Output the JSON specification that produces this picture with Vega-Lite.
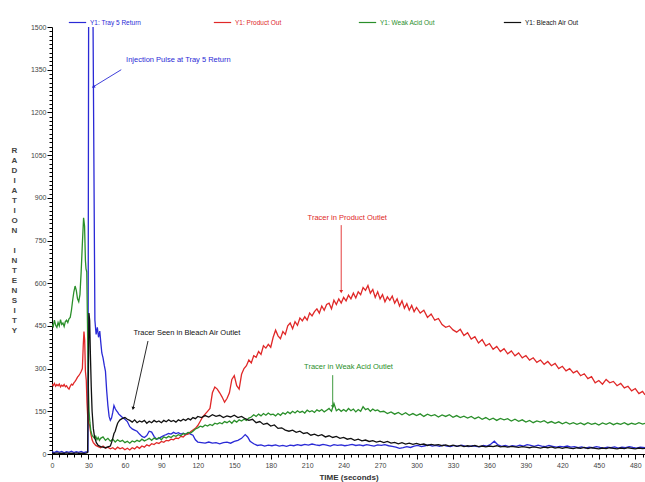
{
"$schema": "https://vega.github.io/schema/vega-lite/v6.json",
"width": 593, "height": 427,
"autosize": "none",
"padding": {"left": 52, "top": 27, "right": 0, "bottom": 28},
"background": "white",
"config": {"view": {"stroke": null}, "font": "Liberation Sans", "axis": {"labelOverlap": false}},
"datasets": {
"ann": [
{"id":"inj","s":"B","label":"Injection Pulse at Tray 5 Return","t":104,"v":1384,"t1":57,"v1":1350,"t2":34,"v2":1290},
{"id":"bleach","s":"K","label":"Tracer Seen in Bleach Air Outlet","t":111,"v":425,"t1":79,"v1":397,"t2":66.7,"v2":160},
{"id":"prod","s":"R","label":"Tracer in Product Outlet","t":243,"v":829,"t1":238,"v1":804,"t2":238,"v2":570},
{"id":"weak","s":"G","label":"Tracer in Weak Acid Outlet","t":244,"v":306,"t1":231,"v1":277,"t2":231,"v2":166}
],
"series": [
{"s":"B","t":0,"v":8},{"s":"B","t":2,"v":5},{"s":"B","t":4,"v":10},{"s":"B","t":6,"v":6},{"s":"B","t":8,"v":9},{"s":"B","t":10,"v":4},{"s":"B","t":12,"v":8},{"s":"B","t":14,"v":6},{"s":"B","t":16,"v":10},{"s":"B","t":18,"v":5},{"s":"B","t":20,"v":8},{"s":"B","t":22,"v":6},{"s":"B","t":24,"v":9},{"s":"B","t":26,"v":5},{"s":"B","t":28,"v":7},{"s":"B","t":29.6,"v":8},{"s":"B","t":30.2,"v":1700},{"s":"B","t":33.5,"v":1700},{"s":"B","t":35.3,"v":470},{"s":"B","t":36.3,"v":420},{"s":"B","t":37.3,"v":445},{"s":"B","t":38.3,"v":410},{"s":"B","t":39.3,"v":432},{"s":"B","t":40.3,"v":385},{"s":"B","t":41,"v":355},{"s":"B","t":42,"v":338},{"s":"B","t":43,"v":312},{"s":"B","t":44,"v":290},{"s":"B","t":45,"v":222},{"s":"B","t":46,"v":170},{"s":"B","t":47,"v":132},{"s":"B","t":48,"v":118},{"s":"B","t":49,"v":126},{"s":"B","t":50,"v":146},{"s":"B","t":51,"v":170},{"s":"B","t":52,"v":160},{"s":"B","t":53,"v":152},{"s":"B","t":54,"v":147},{"s":"B","t":55,"v":140},{"s":"B","t":56,"v":136},{"s":"B","t":58,"v":128},{"s":"B","t":60,"v":122},{"s":"B","t":62,"v":114},{"s":"B","t":64,"v":96},{"s":"B","t":66,"v":88},{"s":"B","t":68,"v":84},{"s":"B","t":70,"v":80},{"s":"B","t":72,"v":70},{"s":"B","t":74,"v":62},{"s":"B","t":76,"v":58},{"s":"B","t":78,"v":65},{"s":"B","t":80,"v":80},{"s":"B","t":82,"v":77},{"s":"B","t":84,"v":62},{"s":"B","t":86,"v":52},{"s":"B","t":88,"v":55},{"s":"B","t":90,"v":60},{"s":"B","t":92,"v":65},{"s":"B","t":94,"v":68},{"s":"B","t":96,"v":72},{"s":"B","t":98,"v":70},{"s":"B","t":100,"v":76},{"s":"B","t":102,"v":72},{"s":"B","t":104,"v":75},{"s":"B","t":106,"v":70},{"s":"B","t":108,"v":73},{"s":"B","t":110,"v":68},{"s":"B","t":112,"v":74},{"s":"B","t":114,"v":70},{"s":"B","t":116,"v":66},{"s":"B","t":118,"v":50},{"s":"B","t":120,"v":42},{"s":"B","t":123,"v":40},{"s":"B","t":126,"v":38},{"s":"B","t":129,"v":42},{"s":"B","t":132,"v":38},{"s":"B","t":135,"v":40},{"s":"B","t":138,"v":36},{"s":"B","t":141,"v":40},{"s":"B","t":144,"v":42},{"s":"B","t":147,"v":38},{"s":"B","t":150,"v":44},{"s":"B","t":153,"v":48},{"s":"B","t":156,"v":55},{"s":"B","t":159,"v":68},{"s":"B","t":161,"v":60},{"s":"B","t":163,"v":45},{"s":"B","t":166,"v":36},{"s":"B","t":169,"v":30},{"s":"B","t":172,"v":32},{"s":"B","t":175,"v":28},{"s":"B","t":178,"v":31},{"s":"B","t":181,"v":29},{"s":"B","t":184,"v":32},{"s":"B","t":187,"v":28},{"s":"B","t":190,"v":30},{"s":"B","t":193,"v":27},{"s":"B","t":196,"v":31},{"s":"B","t":199,"v":29},{"s":"B","t":202,"v":33},{"s":"B","t":205,"v":30},{"s":"B","t":208,"v":34},{"s":"B","t":211,"v":31},{"s":"B","t":214,"v":35},{"s":"B","t":217,"v":32},{"s":"B","t":220,"v":30},{"s":"B","t":223,"v":34},{"s":"B","t":226,"v":31},{"s":"B","t":229,"v":28},{"s":"B","t":232,"v":33},{"s":"B","t":235,"v":30},{"s":"B","t":238,"v":32},{"s":"B","t":241,"v":29},{"s":"B","t":244,"v":31},{"s":"B","t":247,"v":34},{"s":"B","t":250,"v":30},{"s":"B","t":253,"v":32},{"s":"B","t":256,"v":29},{"s":"B","t":259,"v":33},{"s":"B","t":262,"v":30},{"s":"B","t":265,"v":28},{"s":"B","t":268,"v":32},{"s":"B","t":271,"v":30},{"s":"B","t":274,"v":33},{"s":"B","t":277,"v":29},{"s":"B","t":280,"v":27},{"s":"B","t":283,"v":24},{"s":"B","t":286,"v":20},{"s":"B","t":289,"v":22},{"s":"B","t":292,"v":26},{"s":"B","t":295,"v":23},{"s":"B","t":298,"v":28},{"s":"B","t":301,"v":30},{"s":"B","t":304,"v":26},{"s":"B","t":307,"v":29},{"s":"B","t":310,"v":32},{"s":"B","t":313,"v":28},{"s":"B","t":316,"v":30},{"s":"B","t":319,"v":27},{"s":"B","t":322,"v":31},{"s":"B","t":325,"v":28},{"s":"B","t":328,"v":26},{"s":"B","t":331,"v":30},{"s":"B","t":334,"v":27},{"s":"B","t":337,"v":31},{"s":"B","t":340,"v":28},{"s":"B","t":343,"v":26},{"s":"B","t":346,"v":29},{"s":"B","t":349,"v":27},{"s":"B","t":352,"v":25},{"s":"B","t":355,"v":30},{"s":"B","t":358,"v":28},{"s":"B","t":361,"v":34},{"s":"B","t":364,"v":45},{"s":"B","t":367,"v":32},{"s":"B","t":370,"v":27},{"s":"B","t":373,"v":30},{"s":"B","t":376,"v":26},{"s":"B","t":379,"v":29},{"s":"B","t":382,"v":27},{"s":"B","t":385,"v":31},{"s":"B","t":388,"v":28},{"s":"B","t":391,"v":33},{"s":"B","t":394,"v":30},{"s":"B","t":397,"v":27},{"s":"B","t":400,"v":31},{"s":"B","t":403,"v":28},{"s":"B","t":406,"v":26},{"s":"B","t":409,"v":30},{"s":"B","t":412,"v":27},{"s":"B","t":415,"v":24},{"s":"B","t":418,"v":27},{"s":"B","t":421,"v":25},{"s":"B","t":424,"v":28},{"s":"B","t":427,"v":24},{"s":"B","t":430,"v":26},{"s":"B","t":433,"v":22},{"s":"B","t":436,"v":25},{"s":"B","t":439,"v":21},{"s":"B","t":442,"v":24},{"s":"B","t":445,"v":22},{"s":"B","t":448,"v":26},{"s":"B","t":451,"v":23},{"s":"B","t":454,"v":21},{"s":"B","t":457,"v":24},{"s":"B","t":460,"v":22},{"s":"B","t":463,"v":25},{"s":"B","t":466,"v":21},{"s":"B","t":469,"v":24},{"s":"B","t":472,"v":22},{"s":"B","t":475,"v":26},{"s":"B","t":478,"v":23},{"s":"B","t":481,"v":21},{"s":"B","t":484,"v":24},{"s":"B","t":488,"v":22},
{"s":"R","t":0,"v":245},{"s":"R","t":1,"v":240},{"s":"R","t":2,"v":248},{"s":"R","t":3,"v":238},{"s":"R","t":4,"v":244},{"s":"R","t":5,"v":240},{"s":"R","t":6,"v":246},{"s":"R","t":7,"v":236},{"s":"R","t":8,"v":242},{"s":"R","t":9,"v":238},{"s":"R","t":10,"v":244},{"s":"R","t":11,"v":236},{"s":"R","t":12,"v":240},{"s":"R","t":13,"v":232},{"s":"R","t":14,"v":228},{"s":"R","t":15,"v":238},{"s":"R","t":16,"v":245},{"s":"R","t":17,"v":242},{"s":"R","t":18,"v":250},{"s":"R","t":19,"v":255},{"s":"R","t":20,"v":262},{"s":"R","t":21,"v":270},{"s":"R","t":22,"v":275},{"s":"R","t":23,"v":282},{"s":"R","t":24,"v":290},{"s":"R","t":25,"v":300},{"s":"R","t":25.7,"v":380},{"s":"R","t":26.3,"v":430},{"s":"R","t":26.9,"v":400},{"s":"R","t":27.5,"v":290},{"s":"R","t":28.2,"v":260},{"s":"R","t":28.8,"v":180},{"s":"R","t":29.4,"v":130},{"s":"R","t":30,"v":110},{"s":"R","t":31,"v":100},{"s":"R","t":32,"v":70},{"s":"R","t":33,"v":50},{"s":"R","t":34,"v":40},{"s":"R","t":35,"v":35},{"s":"R","t":36,"v":30},{"s":"R","t":38,"v":26},{"s":"R","t":40,"v":22},{"s":"R","t":42,"v":28},{"s":"R","t":44,"v":20},{"s":"R","t":46,"v":24},{"s":"R","t":48,"v":18},{"s":"R","t":50,"v":22},{"s":"R","t":52,"v":16},{"s":"R","t":54,"v":24},{"s":"R","t":56,"v":18},{"s":"R","t":58,"v":22},{"s":"R","t":60,"v":15},{"s":"R","t":62,"v":20},{"s":"R","t":64,"v":14},{"s":"R","t":66,"v":22},{"s":"R","t":68,"v":18},{"s":"R","t":70,"v":26},{"s":"R","t":72,"v":20},{"s":"R","t":74,"v":28},{"s":"R","t":76,"v":24},{"s":"R","t":78,"v":32},{"s":"R","t":80,"v":28},{"s":"R","t":82,"v":36},{"s":"R","t":84,"v":33},{"s":"R","t":86,"v":40},{"s":"R","t":88,"v":37},{"s":"R","t":90,"v":44},{"s":"R","t":92,"v":41},{"s":"R","t":94,"v":48},{"s":"R","t":96,"v":46},{"s":"R","t":98,"v":52},{"s":"R","t":100,"v":50},{"s":"R","t":102,"v":56},{"s":"R","t":104,"v":54},{"s":"R","t":106,"v":62},{"s":"R","t":108,"v":60},{"s":"R","t":110,"v":68},{"s":"R","t":112,"v":70},{"s":"R","t":114,"v":78},{"s":"R","t":116,"v":84},{"s":"R","t":118,"v":90},{"s":"R","t":120,"v":100},{"s":"R","t":122,"v":115},{"s":"R","t":124,"v":130},{"s":"R","t":126,"v":140},{"s":"R","t":128,"v":150},{"s":"R","t":130,"v":160},{"s":"R","t":132,"v":215},{"s":"R","t":134,"v":235},{"s":"R","t":136,"v":228},{"s":"R","t":138,"v":215},{"s":"R","t":140,"v":200},{"s":"R","t":142,"v":182},{"s":"R","t":144,"v":195},{"s":"R","t":146,"v":215},{"s":"R","t":148,"v":262},{"s":"R","t":150,"v":275},{"s":"R","t":152,"v":240},{"s":"R","t":154,"v":228},{"s":"R","t":156,"v":280},{"s":"R","t":158,"v":300},{"s":"R","t":160,"v":310},{"s":"R","t":162,"v":330},{"s":"R","t":164,"v":320},{"s":"R","t":166,"v":345},{"s":"R","t":168,"v":340},{"s":"R","t":170,"v":360},{"s":"R","t":172,"v":350},{"s":"R","t":174,"v":380},{"s":"R","t":176,"v":372},{"s":"R","t":178,"v":385},{"s":"R","t":180,"v":375},{"s":"R","t":182,"v":410},{"s":"R","t":184,"v":435},{"s":"R","t":186,"v":415},{"s":"R","t":188,"v":405},{"s":"R","t":190,"v":430},{"s":"R","t":192,"v":420},{"s":"R","t":194,"v":450},{"s":"R","t":196,"v":460},{"s":"R","t":198,"v":440},{"s":"R","t":200,"v":465},{"s":"R","t":202,"v":452},{"s":"R","t":204,"v":478},{"s":"R","t":206,"v":468},{"s":"R","t":208,"v":482},{"s":"R","t":210,"v":470},{"s":"R","t":212,"v":495},{"s":"R","t":214,"v":485},{"s":"R","t":216,"v":500},{"s":"R","t":218,"v":510},{"s":"R","t":220,"v":495},{"s":"R","t":222,"v":520},{"s":"R","t":224,"v":505},{"s":"R","t":226,"v":525},{"s":"R","t":228,"v":530},{"s":"R","t":230,"v":510},{"s":"R","t":232,"v":540},{"s":"R","t":234,"v":525},{"s":"R","t":236,"v":545},{"s":"R","t":238,"v":530},{"s":"R","t":240,"v":550},{"s":"R","t":242,"v":538},{"s":"R","t":244,"v":558},{"s":"R","t":246,"v":545},{"s":"R","t":248,"v":565},{"s":"R","t":250,"v":548},{"s":"R","t":252,"v":570},{"s":"R","t":254,"v":560},{"s":"R","t":256,"v":585},{"s":"R","t":258,"v":575},{"s":"R","t":260,"v":592},{"s":"R","t":262,"v":565},{"s":"R","t":264,"v":578},{"s":"R","t":266,"v":550},{"s":"R","t":268,"v":570},{"s":"R","t":270,"v":545},{"s":"R","t":272,"v":560},{"s":"R","t":274,"v":535},{"s":"R","t":276,"v":552},{"s":"R","t":278,"v":540},{"s":"R","t":280,"v":555},{"s":"R","t":282,"v":530},{"s":"R","t":284,"v":545},{"s":"R","t":286,"v":520},{"s":"R","t":288,"v":538},{"s":"R","t":290,"v":512},{"s":"R","t":292,"v":528},{"s":"R","t":294,"v":505},{"s":"R","t":296,"v":522},{"s":"R","t":298,"v":500},{"s":"R","t":300,"v":515},{"s":"R","t":303,"v":495},{"s":"R","t":306,"v":505},{"s":"R","t":309,"v":480},{"s":"R","t":312,"v":492},{"s":"R","t":315,"v":470},{"s":"R","t":318,"v":476},{"s":"R","t":321,"v":455},{"s":"R","t":324,"v":445},{"s":"R","t":327,"v":450},{"s":"R","t":330,"v":436},{"s":"R","t":333,"v":428},{"s":"R","t":336,"v":438},{"s":"R","t":339,"v":416},{"s":"R","t":342,"v":426},{"s":"R","t":345,"v":404},{"s":"R","t":348,"v":412},{"s":"R","t":351,"v":390},{"s":"R","t":354,"v":402},{"s":"R","t":357,"v":380},{"s":"R","t":360,"v":388},{"s":"R","t":363,"v":368},{"s":"R","t":366,"v":378},{"s":"R","t":369,"v":360},{"s":"R","t":372,"v":370},{"s":"R","t":375,"v":352},{"s":"R","t":378,"v":362},{"s":"R","t":381,"v":345},{"s":"R","t":384,"v":355},{"s":"R","t":387,"v":338},{"s":"R","t":390,"v":346},{"s":"R","t":393,"v":330},{"s":"R","t":396,"v":338},{"s":"R","t":399,"v":322},{"s":"R","t":402,"v":330},{"s":"R","t":405,"v":315},{"s":"R","t":408,"v":325},{"s":"R","t":411,"v":310},{"s":"R","t":414,"v":318},{"s":"R","t":417,"v":300},{"s":"R","t":420,"v":308},{"s":"R","t":423,"v":292},{"s":"R","t":426,"v":300},{"s":"R","t":429,"v":285},{"s":"R","t":432,"v":292},{"s":"R","t":435,"v":275},{"s":"R","t":438,"v":282},{"s":"R","t":441,"v":265},{"s":"R","t":444,"v":272},{"s":"R","t":447,"v":250},{"s":"R","t":450,"v":258},{"s":"R","t":453,"v":245},{"s":"R","t":456,"v":262},{"s":"R","t":459,"v":250},{"s":"R","t":462,"v":255},{"s":"R","t":465,"v":240},{"s":"R","t":468,"v":248},{"s":"R","t":471,"v":232},{"s":"R","t":474,"v":238},{"s":"R","t":477,"v":222},{"s":"R","t":480,"v":230},{"s":"R","t":483,"v":212},{"s":"R","t":486,"v":220},{"s":"R","t":488,"v":208},
{"s":"G","t":0,"v":455},{"s":"G","t":1,"v":448},{"s":"G","t":2,"v":470},{"s":"G","t":3,"v":452},{"s":"G","t":4,"v":445},{"s":"G","t":5,"v":462},{"s":"G","t":6,"v":450},{"s":"G","t":7,"v":472},{"s":"G","t":8,"v":455},{"s":"G","t":9,"v":460},{"s":"G","t":10,"v":448},{"s":"G","t":11,"v":465},{"s":"G","t":12,"v":470},{"s":"G","t":13,"v":462},{"s":"G","t":14,"v":475},{"s":"G","t":15,"v":480},{"s":"G","t":16,"v":505},{"s":"G","t":17,"v":540},{"s":"G","t":18,"v":570},{"s":"G","t":19,"v":590},{"s":"G","t":20,"v":575},{"s":"G","t":21,"v":545},{"s":"G","t":22,"v":535},{"s":"G","t":23,"v":560},{"s":"G","t":24,"v":640},{"s":"G","t":25,"v":740},{"s":"G","t":26,"v":830},{"s":"G","t":26.8,"v":800},{"s":"G","t":27.5,"v":680},{"s":"G","t":28,"v":650},{"s":"G","t":28.6,"v":640},{"s":"G","t":29.2,"v":460},{"s":"G","t":29.8,"v":250},{"s":"G","t":30.5,"v":150},{"s":"G","t":31.2,"v":110},{"s":"G","t":32,"v":80},{"s":"G","t":33,"v":65},{"s":"G","t":34,"v":60},{"s":"G","t":35,"v":55},{"s":"G","t":36,"v":62},{"s":"G","t":37,"v":50},{"s":"G","t":38,"v":58},{"s":"G","t":39,"v":48},{"s":"G","t":40,"v":55},{"s":"G","t":42,"v":60},{"s":"G","t":44,"v":48},{"s":"G","t":46,"v":55},{"s":"G","t":48,"v":45},{"s":"G","t":50,"v":52},{"s":"G","t":52,"v":42},{"s":"G","t":54,"v":50},{"s":"G","t":56,"v":44},{"s":"G","t":58,"v":48},{"s":"G","t":60,"v":40},{"s":"G","t":62,"v":45},{"s":"G","t":64,"v":38},{"s":"G","t":66,"v":46},{"s":"G","t":68,"v":42},{"s":"G","t":70,"v":48},{"s":"G","t":72,"v":44},{"s":"G","t":74,"v":52},{"s":"G","t":76,"v":46},{"s":"G","t":78,"v":50},{"s":"G","t":80,"v":55},{"s":"G","t":82,"v":48},{"s":"G","t":84,"v":56},{"s":"G","t":86,"v":52},{"s":"G","t":88,"v":58},{"s":"G","t":90,"v":50},{"s":"G","t":92,"v":60},{"s":"G","t":94,"v":56},{"s":"G","t":96,"v":62},{"s":"G","t":98,"v":58},{"s":"G","t":100,"v":65},{"s":"G","t":102,"v":62},{"s":"G","t":104,"v":68},{"s":"G","t":106,"v":64},{"s":"G","t":108,"v":72},{"s":"G","t":110,"v":70},{"s":"G","t":112,"v":76},{"s":"G","t":114,"v":74},{"s":"G","t":116,"v":80},{"s":"G","t":118,"v":88},{"s":"G","t":120,"v":92},{"s":"G","t":122,"v":98},{"s":"G","t":124,"v":95},{"s":"G","t":126,"v":102},{"s":"G","t":128,"v":98},{"s":"G","t":130,"v":104},{"s":"G","t":132,"v":100},{"s":"G","t":134,"v":108},{"s":"G","t":136,"v":105},{"s":"G","t":138,"v":110},{"s":"G","t":140,"v":106},{"s":"G","t":142,"v":114},{"s":"G","t":144,"v":110},{"s":"G","t":146,"v":116},{"s":"G","t":148,"v":108},{"s":"G","t":150,"v":118},{"s":"G","t":152,"v":112},{"s":"G","t":154,"v":120},{"s":"G","t":156,"v":116},{"s":"G","t":158,"v":122},{"s":"G","t":160,"v":118},{"s":"G","t":162,"v":126},{"s":"G","t":164,"v":130},{"s":"G","t":166,"v":138},{"s":"G","t":168,"v":132},{"s":"G","t":170,"v":140},{"s":"G","t":172,"v":134},{"s":"G","t":174,"v":142},{"s":"G","t":176,"v":136},{"s":"G","t":178,"v":144},{"s":"G","t":180,"v":138},{"s":"G","t":182,"v":140},{"s":"G","t":184,"v":134},{"s":"G","t":186,"v":142},{"s":"G","t":188,"v":136},{"s":"G","t":190,"v":145},{"s":"G","t":192,"v":140},{"s":"G","t":194,"v":148},{"s":"G","t":196,"v":142},{"s":"G","t":198,"v":150},{"s":"G","t":200,"v":144},{"s":"G","t":202,"v":152},{"s":"G","t":204,"v":146},{"s":"G","t":206,"v":150},{"s":"G","t":208,"v":144},{"s":"G","t":210,"v":154},{"s":"G","t":212,"v":148},{"s":"G","t":214,"v":152},{"s":"G","t":216,"v":146},{"s":"G","t":218,"v":155},{"s":"G","t":220,"v":150},{"s":"G","t":222,"v":156},{"s":"G","t":224,"v":148},{"s":"G","t":226,"v":154},{"s":"G","t":228,"v":160},{"s":"G","t":230,"v":150},{"s":"G","t":232,"v":178},{"s":"G","t":234,"v":152},{"s":"G","t":236,"v":158},{"s":"G","t":238,"v":150},{"s":"G","t":240,"v":156},{"s":"G","t":242,"v":150},{"s":"G","t":244,"v":160},{"s":"G","t":246,"v":152},{"s":"G","t":248,"v":158},{"s":"G","t":250,"v":148},{"s":"G","t":252,"v":156},{"s":"G","t":254,"v":150},{"s":"G","t":256,"v":166},{"s":"G","t":258,"v":156},{"s":"G","t":260,"v":160},{"s":"G","t":262,"v":150},{"s":"G","t":264,"v":158},{"s":"G","t":266,"v":152},{"s":"G","t":268,"v":155},{"s":"G","t":270,"v":148},{"s":"G","t":273,"v":150},{"s":"G","t":276,"v":142},{"s":"G","t":279,"v":148},{"s":"G","t":282,"v":140},{"s":"G","t":285,"v":146},{"s":"G","t":288,"v":138},{"s":"G","t":291,"v":145},{"s":"G","t":294,"v":136},{"s":"G","t":297,"v":142},{"s":"G","t":300,"v":135},{"s":"G","t":303,"v":141},{"s":"G","t":306,"v":132},{"s":"G","t":309,"v":140},{"s":"G","t":312,"v":134},{"s":"G","t":315,"v":138},{"s":"G","t":318,"v":130},{"s":"G","t":321,"v":137},{"s":"G","t":324,"v":132},{"s":"G","t":327,"v":138},{"s":"G","t":330,"v":129},{"s":"G","t":333,"v":135},{"s":"G","t":336,"v":128},{"s":"G","t":339,"v":133},{"s":"G","t":342,"v":126},{"s":"G","t":345,"v":132},{"s":"G","t":348,"v":124},{"s":"G","t":351,"v":130},{"s":"G","t":354,"v":122},{"s":"G","t":357,"v":128},{"s":"G","t":360,"v":120},{"s":"G","t":363,"v":126},{"s":"G","t":366,"v":118},{"s":"G","t":369,"v":125},{"s":"G","t":372,"v":120},{"s":"G","t":375,"v":124},{"s":"G","t":378,"v":116},{"s":"G","t":381,"v":122},{"s":"G","t":384,"v":115},{"s":"G","t":387,"v":120},{"s":"G","t":390,"v":112},{"s":"G","t":393,"v":118},{"s":"G","t":396,"v":110},{"s":"G","t":399,"v":116},{"s":"G","t":402,"v":112},{"s":"G","t":405,"v":117},{"s":"G","t":408,"v":109},{"s":"G","t":411,"v":114},{"s":"G","t":414,"v":108},{"s":"G","t":417,"v":113},{"s":"G","t":420,"v":106},{"s":"G","t":423,"v":112},{"s":"G","t":426,"v":105},{"s":"G","t":429,"v":110},{"s":"G","t":432,"v":104},{"s":"G","t":435,"v":109},{"s":"G","t":438,"v":103},{"s":"G","t":441,"v":110},{"s":"G","t":444,"v":104},{"s":"G","t":447,"v":108},{"s":"G","t":450,"v":102},{"s":"G","t":453,"v":109},{"s":"G","t":456,"v":104},{"s":"G","t":459,"v":110},{"s":"G","t":462,"v":103},{"s":"G","t":465,"v":108},{"s":"G","t":468,"v":104},{"s":"G","t":471,"v":110},{"s":"G","t":474,"v":103},{"s":"G","t":477,"v":108},{"s":"G","t":480,"v":104},{"s":"G","t":483,"v":110},{"s":"G","t":486,"v":105},{"s":"G","t":488,"v":108},
{"s":"K","t":0,"v":3},{"s":"K","t":2,"v":2},{"s":"K","t":4,"v":4},{"s":"K","t":6,"v":2},{"s":"K","t":8,"v":3},{"s":"K","t":10,"v":2},{"s":"K","t":12,"v":4},{"s":"K","t":14,"v":2},{"s":"K","t":16,"v":3},{"s":"K","t":18,"v":2},{"s":"K","t":20,"v":4},{"s":"K","t":22,"v":2},{"s":"K","t":24,"v":3},{"s":"K","t":26,"v":2},{"s":"K","t":28,"v":3},{"s":"K","t":29.3,"v":5},{"s":"K","t":29.8,"v":200},{"s":"K","t":30.4,"v":495},{"s":"K","t":31,"v":470},{"s":"K","t":31.6,"v":350},{"s":"K","t":32.3,"v":236},{"s":"K","t":33,"v":150},{"s":"K","t":34,"v":90},{"s":"K","t":35,"v":60},{"s":"K","t":36.5,"v":40},{"s":"K","t":38,"v":30},{"s":"K","t":40,"v":26},{"s":"K","t":42,"v":24},{"s":"K","t":44,"v":22},{"s":"K","t":46,"v":25},{"s":"K","t":48,"v":28},{"s":"K","t":49,"v":40},{"s":"K","t":50,"v":55},{"s":"K","t":51,"v":72},{"s":"K","t":52,"v":80},{"s":"K","t":53,"v":95},{"s":"K","t":54,"v":108},{"s":"K","t":55,"v":115},{"s":"K","t":56,"v":120},{"s":"K","t":58,"v":125},{"s":"K","t":60,"v":128},{"s":"K","t":62,"v":122},{"s":"K","t":64,"v":118},{"s":"K","t":66,"v":112},{"s":"K","t":68,"v":120},{"s":"K","t":70,"v":110},{"s":"K","t":72,"v":116},{"s":"K","t":74,"v":112},{"s":"K","t":76,"v":118},{"s":"K","t":78,"v":108},{"s":"K","t":80,"v":115},{"s":"K","t":82,"v":110},{"s":"K","t":84,"v":118},{"s":"K","t":86,"v":112},{"s":"K","t":88,"v":116},{"s":"K","t":90,"v":110},{"s":"K","t":92,"v":118},{"s":"K","t":94,"v":113},{"s":"K","t":96,"v":120},{"s":"K","t":98,"v":114},{"s":"K","t":100,"v":118},{"s":"K","t":102,"v":112},{"s":"K","t":104,"v":120},{"s":"K","t":106,"v":116},{"s":"K","t":108,"v":122},{"s":"K","t":110,"v":118},{"s":"K","t":112,"v":125},{"s":"K","t":114,"v":120},{"s":"K","t":116,"v":128},{"s":"K","t":118,"v":124},{"s":"K","t":120,"v":132},{"s":"K","t":123,"v":128},{"s":"K","t":126,"v":135},{"s":"K","t":129,"v":130},{"s":"K","t":132,"v":138},{"s":"K","t":135,"v":132},{"s":"K","t":138,"v":136},{"s":"K","t":141,"v":128},{"s":"K","t":144,"v":134},{"s":"K","t":147,"v":130},{"s":"K","t":150,"v":136},{"s":"K","t":153,"v":128},{"s":"K","t":156,"v":132},{"s":"K","t":159,"v":124},{"s":"K","t":162,"v":118},{"s":"K","t":165,"v":122},{"s":"K","t":168,"v":110},{"s":"K","t":171,"v":114},{"s":"K","t":174,"v":104},{"s":"K","t":177,"v":108},{"s":"K","t":180,"v":98},{"s":"K","t":183,"v":102},{"s":"K","t":186,"v":90},{"s":"K","t":189,"v":92},{"s":"K","t":192,"v":84},{"s":"K","t":195,"v":80},{"s":"K","t":198,"v":84},{"s":"K","t":201,"v":76},{"s":"K","t":204,"v":80},{"s":"K","t":207,"v":72},{"s":"K","t":210,"v":75},{"s":"K","t":213,"v":66},{"s":"K","t":216,"v":70},{"s":"K","t":219,"v":64},{"s":"K","t":222,"v":68},{"s":"K","t":225,"v":60},{"s":"K","t":228,"v":64},{"s":"K","t":231,"v":58},{"s":"K","t":234,"v":62},{"s":"K","t":237,"v":55},{"s":"K","t":240,"v":58},{"s":"K","t":243,"v":52},{"s":"K","t":246,"v":55},{"s":"K","t":249,"v":48},{"s":"K","t":252,"v":52},{"s":"K","t":255,"v":46},{"s":"K","t":258,"v":49},{"s":"K","t":261,"v":44},{"s":"K","t":264,"v":47},{"s":"K","t":267,"v":42},{"s":"K","t":270,"v":45},{"s":"K","t":273,"v":40},{"s":"K","t":276,"v":44},{"s":"K","t":279,"v":38},{"s":"K","t":282,"v":41},{"s":"K","t":285,"v":36},{"s":"K","t":288,"v":40},{"s":"K","t":291,"v":35},{"s":"K","t":294,"v":38},{"s":"K","t":297,"v":34},{"s":"K","t":300,"v":37},{"s":"K","t":303,"v":33},{"s":"K","t":306,"v":35},{"s":"K","t":309,"v":30},{"s":"K","t":312,"v":34},{"s":"K","t":315,"v":31},{"s":"K","t":318,"v":33},{"s":"K","t":321,"v":29},{"s":"K","t":324,"v":32},{"s":"K","t":327,"v":28},{"s":"K","t":330,"v":31},{"s":"K","t":333,"v":27},{"s":"K","t":336,"v":30},{"s":"K","t":339,"v":26},{"s":"K","t":342,"v":29},{"s":"K","t":345,"v":27},{"s":"K","t":348,"v":30},{"s":"K","t":351,"v":26},{"s":"K","t":354,"v":28},{"s":"K","t":357,"v":25},{"s":"K","t":360,"v":28},{"s":"K","t":363,"v":26},{"s":"K","t":366,"v":29},{"s":"K","t":369,"v":25},{"s":"K","t":372,"v":27},{"s":"K","t":375,"v":24},{"s":"K","t":378,"v":27},{"s":"K","t":381,"v":25},{"s":"K","t":384,"v":23},{"s":"K","t":387,"v":26},{"s":"K","t":390,"v":24},{"s":"K","t":393,"v":22},{"s":"K","t":396,"v":25},{"s":"K","t":399,"v":23},{"s":"K","t":402,"v":21},{"s":"K","t":405,"v":24},{"s":"K","t":408,"v":22},{"s":"K","t":411,"v":25},{"s":"K","t":414,"v":21},{"s":"K","t":417,"v":23},{"s":"K","t":420,"v":20},{"s":"K","t":423,"v":23},{"s":"K","t":426,"v":21},{"s":"K","t":429,"v":19},{"s":"K","t":432,"v":22},{"s":"K","t":435,"v":20},{"s":"K","t":438,"v":23},{"s":"K","t":441,"v":19},{"s":"K","t":444,"v":22},{"s":"K","t":447,"v":20},{"s":"K","t":450,"v":18},{"s":"K","t":453,"v":21},{"s":"K","t":456,"v":19},{"s":"K","t":459,"v":22},{"s":"K","t":462,"v":20},{"s":"K","t":465,"v":18},{"s":"K","t":468,"v":21},{"s":"K","t":471,"v":19},{"s":"K","t":474,"v":22},{"s":"K","t":477,"v":20},{"s":"K","t":480,"v":18},{"s":"K","t":483,"v":21},{"s":"K","t":486,"v":19},{"s":"K","t":488,"v":20}
]
},
"layer": [
{
"data": {"name": "series"},
"mark": {"type": "line", "strokeWidth": 1.3, "clip": true, "interpolate": "linear"},
"encoding": {
"x": {"field": "t", "type": "quantitative", "scale": {"domain": [0, 488], "nice": false, "zero": false},
 "axis": {"orient": "bottom", "tickCount": 500, "values": [0,6,12,18,24,30,36,42,48,54,60,66,72,78,84,90,96,102,108,114,120,126,132,138,144,150,156,162,168,174,180,186,192,198,204,210,216,222,228,234,240,246,252,258,264,270,276,282,288,294,300,306,312,318,324,330,336,342,348,354,360,366,372,378,384,390,396,402,408,414,420,426,432,438,444,450,456,462,468,474,480,486],
  "labelExpr": "datum.value % 30 === 0 ? datum.label : ''", "format": "d", "labelOverlap": false, "grid": false,
  "labelFontSize": {"condition": {"test": "datum.value % 30 === 0", "value": 7}, "value": 0},
  "tickSize": {"condition": {"test": "datum.value % 30 === 0", "value": 5}, "value": 3},
  "tickColor": "#000", "domainColor": "#000", "labelColor": "#444", "labelPadding": 2, "labelFlush": false,
  "title": "TIME (seconds)", "titleFontSize": 8, "titleFontWeight": "bold", "titleColor": "#333", "titlePadding": 5}},
"y": {"field": "v", "type": "quantitative", "scale": {"domain": [0, 1500], "nice": false},
 "axis": {"orient": "left", "tickCount": 500, "values": [0,15,30,45,60,75,90,105,120,135,150,165,180,195,210,225,240,255,270,285,300,315,330,345,360,375,390,405,420,435,450,465,480,495,510,525,540,555,570,585,600,615,630,645,660,675,690,705,720,735,750,765,780,795,810,825,840,855,870,885,900,915,930,945,960,975,990,1005,1020,1035,1050,1065,1080,1095,1110,1125,1140,1155,1170,1185,1200,1215,1230,1245,1260,1275,1290,1305,1320,1335,1350,1365,1380,1395,1410,1425,1440,1455,1470,1485,1500],
  "labelExpr": "datum.value % 150 === 0 ? datum.label : ''", "format": "d", "labelOverlap": false, "labelFlush": false, "grid": false,
  "labelFontSize": {"condition": {"test": "datum.value % 150 === 0", "value": 7}, "value": 0},
  "tickSize": {"condition": {"test": "datum.value % 150 === 0", "value": 5}, "value": 3},
  "tickColor": "#000", "domainColor": "#000", "labelColor": "#444", "labelPadding": 1,
  "title": ["R","A","D","I","A","T","I","O","N","\u2800","I","N","T","E","N","S","I","T","Y"], "titleAngle": 0, "titleX": -38, "titleY": 119, "titleAlign": "center", "titleBaseline": "top", "titleLineHeight": 10, "titleFontSize": 8, "titleFontWeight": "bold", "titleColor": "#444"}},
"color": {"field": "s", "type": "nominal",
 "scale": {"domain": ["B","R","G","K"], "range": ["#2a2ad6", "#e02828", "#2a8f2a", "#111111"]},
 "legend": {"orient": "none", "legendX": 16, "legendY": -14, "direction": "horizontal", "columns": 4, "gridAlign": "all", "columnPadding": 66, "padding": 0, "title": null,
  "symbolType": "stroke", "symbolSize": 300, "symbolStrokeWidth": 1.2, "labelFontSize": 6.5, "labelOffset": 3,
  "labelExpr": "{'B':'Y1: Tray 5 Return','R':'Y1: Product Out','G':'Y1: Weak Acid Out','K':'Y1: Bleach Air Out'}[datum.label]",
  "encode": {"labels": {"update": {"fill": {"scale": "color", "field": "value"}}}}}},
"detail": {"field": "s"}
}
},
{
"data": {"name": "ann"},
"mark": {"type": "text", "fontSize": 7.5, "align": "center", "baseline": "middle"},
"encoding": {
"x": {"field": "t", "type": "quantitative"},
"y": {"field": "v", "type": "quantitative"},
"text": {"field": "label"},
"color": {"field": "s", "type": "nominal", "legend": null}
}
},
{
"data": {"name": "ann"},
"mark": {"type": "rule", "strokeWidth": 0.9},
"encoding": {
"x": {"field": "t1", "type": "quantitative"},
"y": {"field": "v1", "type": "quantitative"},
"x2": {"field": "t2"},
"y2": {"field": "v2"},
"color": {"field": "s", "type": "nominal", "legend": null}
}
},
{
"data": {"name": "ann"},
"transform": [{"filter": "datum.id === 'prod' || datum.id === 'weak'"}],
"mark": {"type": "point", "shape": "triangle-up", "filled": true, "size": 14, "angle": 180, "opacity": 1},
"encoding": {
"x": {"field": "t2", "type": "quantitative"},
"y": {"field": "v2", "type": "quantitative"},
"color": {"field": "s", "type": "nominal", "legend": null}
}
},
{
"data": {"name": "ann"},
"transform": [{"filter": "datum.id === 'bleach'"}],
"mark": {"type": "point", "shape": "triangle-up", "filled": true, "size": 14, "angle": 192, "opacity": 1},
"encoding": {
"x": {"field": "t2", "type": "quantitative"},
"y": {"field": "v2", "type": "quantitative"},
"color": {"field": "s", "type": "nominal", "legend": null}
}
},
{
"data": {"name": "ann"},
"transform": [{"filter": "datum.id === 'inj'"}],
"mark": {"type": "point", "shape": "triangle-up", "filled": true, "size": 14, "angle": 237, "opacity": 1},
"encoding": {
"x": {"field": "t2", "type": "quantitative"},
"y": {"field": "v2", "type": "quantitative"},
"color": {"field": "s", "type": "nominal", "legend": null}
}
},
{
"mark": {"type": "rule", "color": "#000", "strokeWidth": 1, "clip": false},
"encoding": {"y": {"datum": 1500, "type": "quantitative"}}
},
{
"mark": {"type": "rule", "color": "#000", "strokeWidth": 1, "clip": false},
"encoding": {"y": {"datum": 1560, "type": "quantitative"}}
}
]
}
